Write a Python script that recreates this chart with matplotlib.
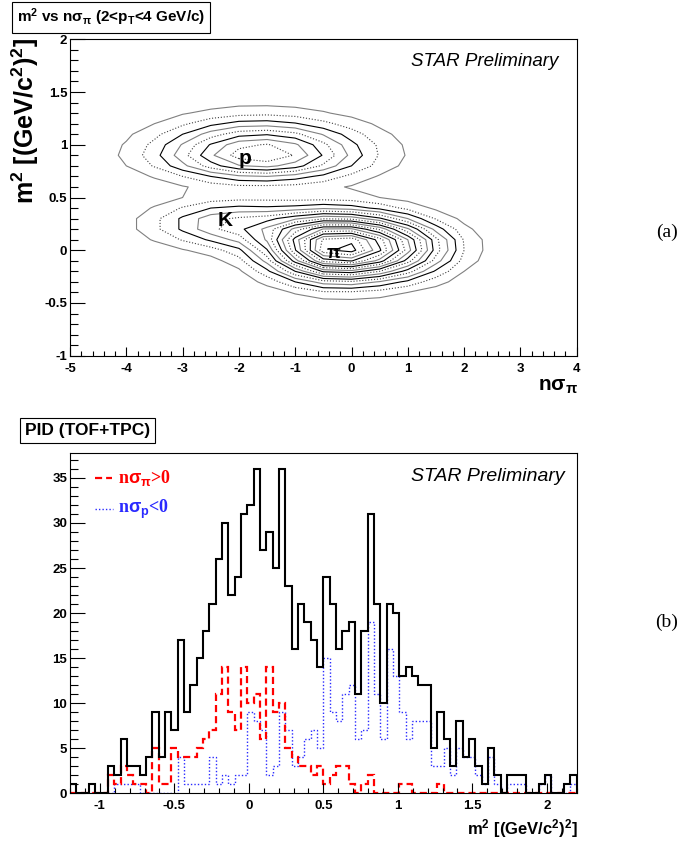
import numpy as np
import matplotlib
matplotlib.use("Agg")
import matplotlib.pyplot as plt
from matplotlib.ticker import MultipleLocator, FormatStrFormatter

# ROOT-like look: bold Helvetica-ish labels, plain minus signs
plt.rcParams['font.family'] = 'Liberation Sans'
plt.rcParams['font.weight'] = 'bold'
plt.rcParams['axes.unicode_minus'] = False
plt.rcParams['mathtext.fontset'] = 'custom'
plt.rcParams['mathtext.rm'] = 'Liberation Sans:bold'
plt.rcParams['mathtext.it'] = 'Liberation Sans:bold'
plt.rcParams['mathtext.bf'] = 'Liberation Sans:bold'
plt.rcParams['mathtext.default'] = 'rm'

### 0 ### data

# (a) m^2 vs n sigma_pi, counts on a coarse grid
nsig_centers = [-4.5, -4.0, -3.5, -3.0, -2.5, -2.0, -1.5, -1.0, -0.5, 0.0, 0.5, 1.0, 1.5, 2.0, 2.5]
m2_centers = [-0.7, -0.6, -0.5, -0.4, -0.3, -0.2, -0.1, 0.0, 0.1, 0.2, 0.3, 0.4,
              0.5, 0.6, 0.7, 0.8, 0.9, 1.0, 1.1, 1.2, 1.3, 1.4, 1.5]
counts_2d = [
    [0.0, 0.0, 0.0, 0.0, 0.0, 0.0, 0.0, 0.0, 0.0, 0.0, 0.0, 0.0, 0.0, 0.0, 0.0],
    [0.0, 0.0, 0.0, 0.0, 0.0, 0.0, 0.0, 0.1, 0.1, 0.1, 0.1, 0.1, 0.0, 0.0, 0.0],
    [0.0, 0.0, 0.0, 0.0, 0.0, 0.1, 0.2, 0.4, 0.5, 0.6, 0.5, 0.3, 0.1, 0.1, 0.0],
    [0.0, 0.0, 0.0, 0.0, 0.0, 0.2, 0.5, 1.1, 1.8, 1.8, 1.5, 1.0, 0.5, 0.2, 0.1],
    [0.0, 0.0, 0.0, 0.0, 0.1, 0.4, 1.3, 3.0, 4.5, 4.8, 3.9, 2.7, 1.4, 0.5, 0.1],
    [0.0, 0.0, 0.0, 0.1, 0.2, 0.8, 2.7, 6.0, 9.2, 9.6, 8.0, 5.5, 2.8, 1.0, 0.3],
    [0.0, 0.0, 0.1, 0.3, 0.6, 1.6, 4.4, 9.5, 14.4, 15.1, 12.6, 8.5, 4.5, 1.6, 0.4],
    [0.1, 0.2, 0.4, 0.9, 1.5, 2.7, 5.9, 11.9, 17.7, 18.5, 15.2, 10.5, 5.5, 2.0, 0.5],
    [0.1, 0.4, 1.1, 2.1, 3.2, 4.4, 7.2, 12.4, 17.2, 17.7, 14.5, 10.0, 5.3, 1.9, 0.5],
    [0.2, 0.6, 1.7, 3.2, 4.7, 5.7, 7.3, 10.4, 13.1, 13.2, 10.8, 7.2, 3.6, 1.3, 0.3],
    [0.2, 0.6, 1.7, 3.2, 4.6, 5.2, 5.6, 6.8, 7.9, 7.7, 6.2, 4.0, 1.9, 0.7, 0.2],
    [0.1, 0.4, 1.1, 2.1, 3.0, 3.3, 3.2, 3.4, 3.8, 3.5, 2.7, 1.7, 0.8, 0.3, 0.1],
    [0.1, 0.2, 0.5, 1.0, 1.4, 1.6, 1.6, 1.5, 1.5, 1.4, 1.0, 0.6, 0.3, 0.1, 0.0],
    [0.1, 0.2, 0.5, 0.9, 1.4, 1.7, 1.7, 1.6, 1.3, 0.9, 0.6, 0.3, 0.1, 0.1, 0.0],
    [0.2, 0.5, 1.1, 2.0, 3.0, 3.8, 4.0, 3.5, 2.7, 1.7, 0.9, 0.4, 0.2, 0.1, 0.0],
    [0.4, 1.0, 2.1, 3.7, 5.5, 6.9, 7.3, 6.5, 4.8, 3.0, 1.6, 0.7, 0.3, 0.1, 0.0],
    [0.5, 1.2, 2.6, 4.6, 6.8, 8.5, 9.0, 7.9, 5.9, 3.7, 1.9, 0.9, 0.3, 0.1, 0.0],
    [0.4, 1.1, 2.3, 4.1, 6.1, 7.7, 8.1, 7.2, 5.3, 3.3, 1.8, 0.8, 0.3, 0.1, 0.0],
    [0.3, 0.8, 1.7, 3.0, 4.5, 5.6, 5.9, 5.3, 3.9, 2.5, 1.3, 0.6, 0.2, 0.1, 0.0],
    [0.2, 0.5, 1.0, 1.8, 2.7, 3.4, 3.5, 3.1, 2.3, 1.5, 0.8, 0.3, 0.1, 0.0, 0.0],
    [0.1, 0.2, 0.5, 0.9, 1.3, 1.6, 1.7, 1.5, 1.1, 0.7, 0.4, 0.2, 0.1, 0.0, 0.0],
    [0.0, 0.1, 0.2, 0.4, 0.5, 0.7, 0.7, 0.6, 0.5, 0.3, 0.2, 0.1, 0.0, 0.0, 0.0],
    [0.0, 0.0, 0.1, 0.1, 0.2, 0.2, 0.2, 0.2, 0.1, 0.1, 0.1, 0.0, 0.0, 0.0, 0.0],
]
contour_levels = list(range(1, 19))

# (b) m^2 histograms, 80 bins from -1.2 to 2.2
m2_lo, m2_hi, n_bins = -1.2, 2.2, 80
all_counts = [1, 0, 0, 1, 0, 0, 3, 2, 6, 3,
              3, 2, 4, 9, 4, 9, 7, 17, 9, 12,
              15, 18, 21, 26, 30, 22, 24, 31, 32, 36,
              27, 29, 25, 36, 23, 16, 21, 19, 17, 14,
              24, 21, 16, 18, 19, 11, 18, 31, 21, 10,
              21, 20, 13, 14, 13, 12, 12, 5, 9, 6,
              3, 8, 4, 6, 3, 1, 5, 2, 0, 2,
              2, 2, 0, 0, 1, 2, 0, 0, 1, 2]
pion_counts = [0, 0, 0, 0, 0, 0, 2, 1, 3, 2,
               1, 1, 0, 5, 1, 1, 5, 4, 4, 4,
               5, 6, 7, 11, 14, 9, 7, 14, 10, 11,
               6, 14, 9, 10, 5, 4, 3, 3, 2, 3,
               1, 2, 3, 3, 1, 0, 1, 2, 0, 0,
               0, 0, 1, 1, 0, 0, 0, 0, 1, 0,
               0, 0, 0, 0, 0, 0, 0, 0, 0, 0,
               0, 0, 0, 0, 0, 0, 0, 0, 0, 0]
proton_counts = [0, 0, 0, 0, 0, 0, 0, 1, 1, 1,
                 1, 0, 0, 0, 0, 0, 0, 4, 1, 1,
                 1, 1, 4, 1, 2, 1, 2, 2, 9, 8,
                 7, 2, 3, 9, 7, 3, 4, 6, 7, 5,
                 15, 9, 8, 11, 12, 6, 7, 19, 11, 6,
                 16, 13, 9, 6, 8, 8, 8, 3, 3, 5,
                 2, 5, 4, 4, 2, 1, 4, 1, 0, 1,
                 1, 1, 0, 0, 1, 2, 0, 0, 0, 1]

### 1 ### figure
W, H = 683, 841
fig = plt.figure(figsize=(W / 100, H / 100), dpi=100)
fig.patch.set_facecolor('white')

def style_axes(ax, xlen, ylen):
    ax.tick_params(which='both', direction='in', top=False, right=False,
                   width=0.8, labelsize=9.5)
    ax.tick_params(axis='x', which='major', length=xlen, pad=5)
    ax.tick_params(axis='x', which='minor', length=xlen / 2)
    ax.tick_params(axis='y', which='major', length=ylen, pad=2)
    ax.tick_params(axis='y', which='minor', length=ylen / 2)
    for s in ax.spines.values():
        s.set_linewidth(0.8)

### 2 ### (a) contour panel
ax1 = fig.add_axes([70 / W, 1 - 355.7 / H, 506.7 / W, 316.4 / H])
line_cols = ['#808080', '#404040', '#000000']
line_sty = ['solid', 'dotted', 'solid']
ax1.contour(nsig_centers, m2_centers, counts_2d, levels=contour_levels,
            colors=[line_cols[i % 3] for i in range(len(contour_levels))],
            linestyles=[line_sty[i % 3] for i in range(len(contour_levels))],
            linewidths=0.8)
ax1.set_xlim(-5, 4)
ax1.set_ylim(-1, 2)
ax1.xaxis.set_major_locator(MultipleLocator(1))
ax1.xaxis.set_minor_locator(MultipleLocator(0.2))
ax1.yaxis.set_major_locator(MultipleLocator(0.5))
ax1.yaxis.set_minor_locator(MultipleLocator(0.1))
ax1.yaxis.set_major_formatter(FormatStrFormatter('%g'))
style_axes(ax1, 6.8, 10.8)

ax1.text(-1.9, 0.87, 'p', fontsize=15, ha='center', va='center')
ax1.text(-2.25, 0.28, 'K', fontsize=15, ha='center', va='center')
ax1.text(-0.32, -0.03, 'π', fontsize=13, ha='center', va='center')
ax1.text(558 / W, 1 - 61.8 / H, 'STAR Preliminary', transform=fig.transFigure,
         ha='right', va='center', fontsize=13.5, fontweight='normal', style='italic')

fig.text(16.7 / W, 1 - 17.5 / H, r'm$^2$ vs n$\sigma_{\pi}$ (2<p$_T$<4 GeV/c)',
         fontsize=11, ha='left', va='center',
         bbox=dict(boxstyle='square,pad=0.3', fc='white', ec='black', lw=0.8))
fig.text(25 / W, 1 - 38.5 / H, r'm$^2$ [(GeV/c$^2$)$^2$]', rotation=90,
         fontsize=18, ha='center', va='top')
fig.text(578 / W, 1 - 391 / H, r'n$\sigma_{\pi}$', fontsize=15,
         ha='right', va='baseline')

### 3 ### (b) histogram panel
ax2 = fig.add_axes([70 / W, 1 - 793.3 / H, 506.7 / W, 340.6 / H])
edges = np.linspace(m2_lo, m2_hi, n_bins + 1)
ax2.stairs(proton_counts, edges, color='#2a2aff', lw=1.0, linestyle=(0, (1, 1.5)))
ax2.stairs(pion_counts, edges, color='#ff0000', lw=1.6, linestyle=(0, (3.2, 1.8)))
ax2.stairs(all_counts, edges, color='black', lw=1.5)
ax2.set_xlim(m2_lo, m2_hi)
ax2.set_ylim(0, 37.8)
ax2.xaxis.set_major_locator(MultipleLocator(0.5))
ax2.xaxis.set_minor_locator(MultipleLocator(0.1))
ax2.yaxis.set_major_locator(MultipleLocator(5))
ax2.yaxis.set_minor_locator(MultipleLocator(1))
ax2.xaxis.set_major_formatter(FormatStrFormatter('%g'))
style_axes(ax2, 7.2, 10.9)

ax2.text(565 / W, 1 - 476.7 / H, 'STAR Preliminary', transform=fig.transFigure,
         ha='right', va='center', fontsize=14, fontweight='normal', style='italic')

# legend drawn by hand like the ROOT pad
ax2.plot([0.049, 0.083], [0.9266, 0.9266], transform=ax2.transAxes,
         color='#ff0000', lw=1.6, linestyle=(0, (3.2, 1.8)))
ax2.text(0.0947, 0.9266, r'n$\sigma_{\pi}$>0', transform=ax2.transAxes,
         color='#ff0000', fontsize=13, family='Liberation Serif', va='center')
ax2.plot([0.049, 0.085], [0.8347, 0.8347], transform=ax2.transAxes,
         color='#2a2aff', lw=1.0, linestyle=(0, (1, 1.5)))
ax2.text(0.0947, 0.8347, r'n$\sigma_{p}$<0', transform=ax2.transAxes,
         color='#2a2aff', fontsize=13, family='Liberation Serif', va='center')

fig.text(25 / W, 1 - 430.3 / H, 'PID (TOF+TPC)', fontsize=12.5, ha='left', va='center',
         bbox=dict(boxstyle='square,pad=0.3', fc='white', ec='black', lw=0.8))
fig.text(578 / W, 1 - 834 / H, r'm$^2$ [(GeV/c$^2$)$^2$]', fontsize=12,
         ha='right', va='baseline')

# panel tags
fig.text(667 / W, 1 - 232 / H, '(a)', fontsize=14, family='Liberation Serif',
         fontweight='normal', ha='center', va='center')
fig.text(667 / W, 1 - 622 / H, '(b)', fontsize=14, family='Liberation Serif',
         fontweight='normal', ha='center', va='center')

### 4 ### save
plt.savefig('out.png', dpi=100)
